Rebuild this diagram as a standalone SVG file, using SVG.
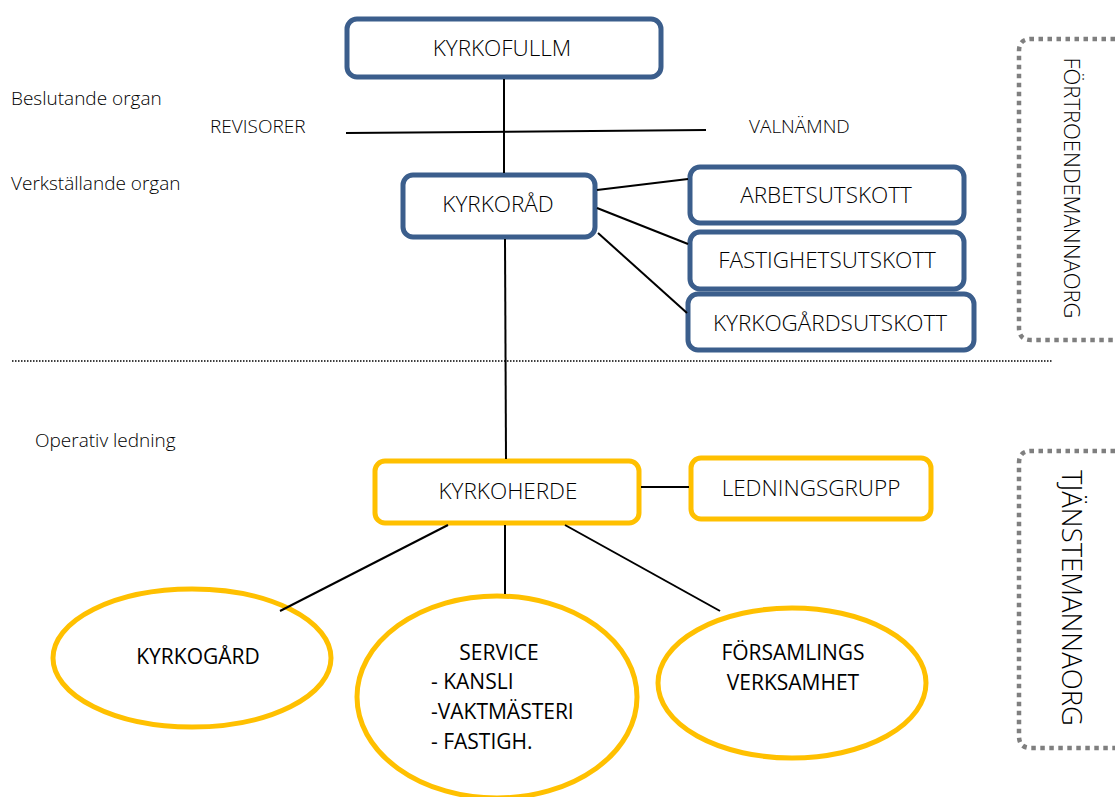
<svg xmlns="http://www.w3.org/2000/svg" width="1115" height="797" viewBox="0 0 1115 797">
<style>
.bb{fill:#fff;stroke:#3b5e8c;stroke-width:5}
.yb{fill:#fff;stroke:#ffc000;stroke-width:5}
.ye{fill:#fff;stroke:#ffc000;stroke-width:5}
.t{font-family:"Open Sans","Liberation Sans",sans-serif;font-size:22.5px;fill:#000;text-anchor:middle;font-weight:300}
.l{font-family:"Open Sans","Liberation Sans",sans-serif;font-size:19px;fill:#000;font-weight:300}
.e{font-family:"Open Sans","Liberation Sans",sans-serif;font-size:21px;fill:#000;font-weight:400}
.v{font-family:"Open Sans","Liberation Sans",sans-serif;fill:#000;font-weight:300;text-anchor:middle}
.c{stroke:#000;stroke-width:2;fill:none}
.d{fill:none;stroke:#7f7f7f;stroke-width:4.5;stroke-dasharray:4.5 4.5}
</style>
<rect width="1115" height="797" fill="#fff"/>
<g id="labels">
<text class="l" x="11" y="105">Beslutande organ</text>
<text class="l" x="210" y="133">REVISORER</text>
<text class="l" x="749" y="133">VALNÄMND</text>
<text class="l" x="11" y="190">Verkställande organ</text>
<text class="l" x="35" y="447">Operativ ledning</text>
</g>
<g id="kyrkofullm"><rect class="bb" x="347" y="19" width="314" height="58" rx="10"/><text class="t" x="502" y="56">KYRKOFULLM</text></g>
<g id="kyrkorad"><rect class="bb" x="403" y="175" width="192" height="62" rx="10"/><text class="t" x="498" y="212">KYRKORÅD</text></g>
<g id="arbetsutskott"><rect class="bb" x="690" y="167" width="274" height="56" rx="10"/><text class="t" x="826" y="203">ARBETSUTSKOTT</text></g>
<g id="fastighetsutskott"><rect class="bb" x="690" y="232" width="274" height="57" rx="10"/><text class="t" x="827" y="268">FASTIGHETSUTSKOTT</text></g>
<g id="kyrkogardsutskott"><rect class="bb" x="688" y="294" width="286" height="56" rx="10"/><text class="t" x="830" y="331">KYRKOGÅRDSUTSKOTT</text></g>
<g id="kyrkoherde"><rect class="yb" x="375" y="461" width="264" height="62" rx="10"/><text class="t" x="508" y="499">KYRKOHERDE</text></g>
<g id="ledningsgrupp"><rect class="yb" x="691" y="458" width="240" height="61" rx="10"/><text class="t" x="811" y="496">LEDNINGSGRUPP</text></g>
<g id="kyrkogard"><ellipse class="ye" cx="192" cy="658" rx="139" ry="69"/><text class="e" x="198" y="664" text-anchor="middle">KYRKOGÅRD</text></g>
<g id="service"><ellipse class="ye" cx="497" cy="697" rx="140" ry="101"/>
<text class="e" x="499" y="660" text-anchor="middle">SERVICE</text>
<text class="e" x="431" y="689">- KANSLI</text>
<text class="e" x="431" y="719">-VAKTMÄSTERI</text>
<text class="e" x="431" y="749">- FASTIGH.</text></g>
<g id="forsamlings"><ellipse class="ye" cx="792" cy="683" rx="134" ry="75"/>
<text class="e" x="793" y="660" text-anchor="middle">FÖRSAMLINGS</text>
<text class="e" x="793" y="690" text-anchor="middle">VERKSAMHET</text></g>
<g id="fortroendemannaorg"><path class="d" d="M1115 39 H1031 Q1019 39 1019 51 V328 Q1019 340 1031 340 H1115"/>
<text class="v" font-size="22" transform="translate(1064 188) rotate(90)">FÖRTROENDEMANNAORG</text></g>
<g id="tjanstemannaorg"><path class="d" d="M1115 451 H1031 Q1019 451 1019 463 V736 Q1019 748 1031 748 H1115"/>
<text class="v" font-size="27.5" transform="translate(1062 598) rotate(90)">TJÄNSTEMANNAORG</text></g>
<g id="connectors">
<line class="c" x1="504" y1="79" x2="504" y2="173"/>
<line class="c" x1="346" y1="133" x2="706" y2="130"/>
<line class="c" x1="597" y1="190" x2="688" y2="179"/>
<line class="c" x1="597" y1="208" x2="688" y2="244"/>
<line class="c" x1="598" y1="233" x2="687" y2="313"/>
<line class="c" x1="505" y1="239" x2="506" y2="459"/>
<line x1="12" y1="361" x2="1052" y2="361" stroke="#000" stroke-width="1.5" stroke-dasharray="1.5 1.5"/>
<line class="c" x1="641" y1="487" x2="689" y2="487"/>
<line class="c" x1="448" y1="525" x2="280" y2="611"/>
<line class="c" x1="505" y1="525" x2="505" y2="594"/>
<line class="c" x1="565" y1="525" x2="720" y2="611"/>
</g>
</svg>
